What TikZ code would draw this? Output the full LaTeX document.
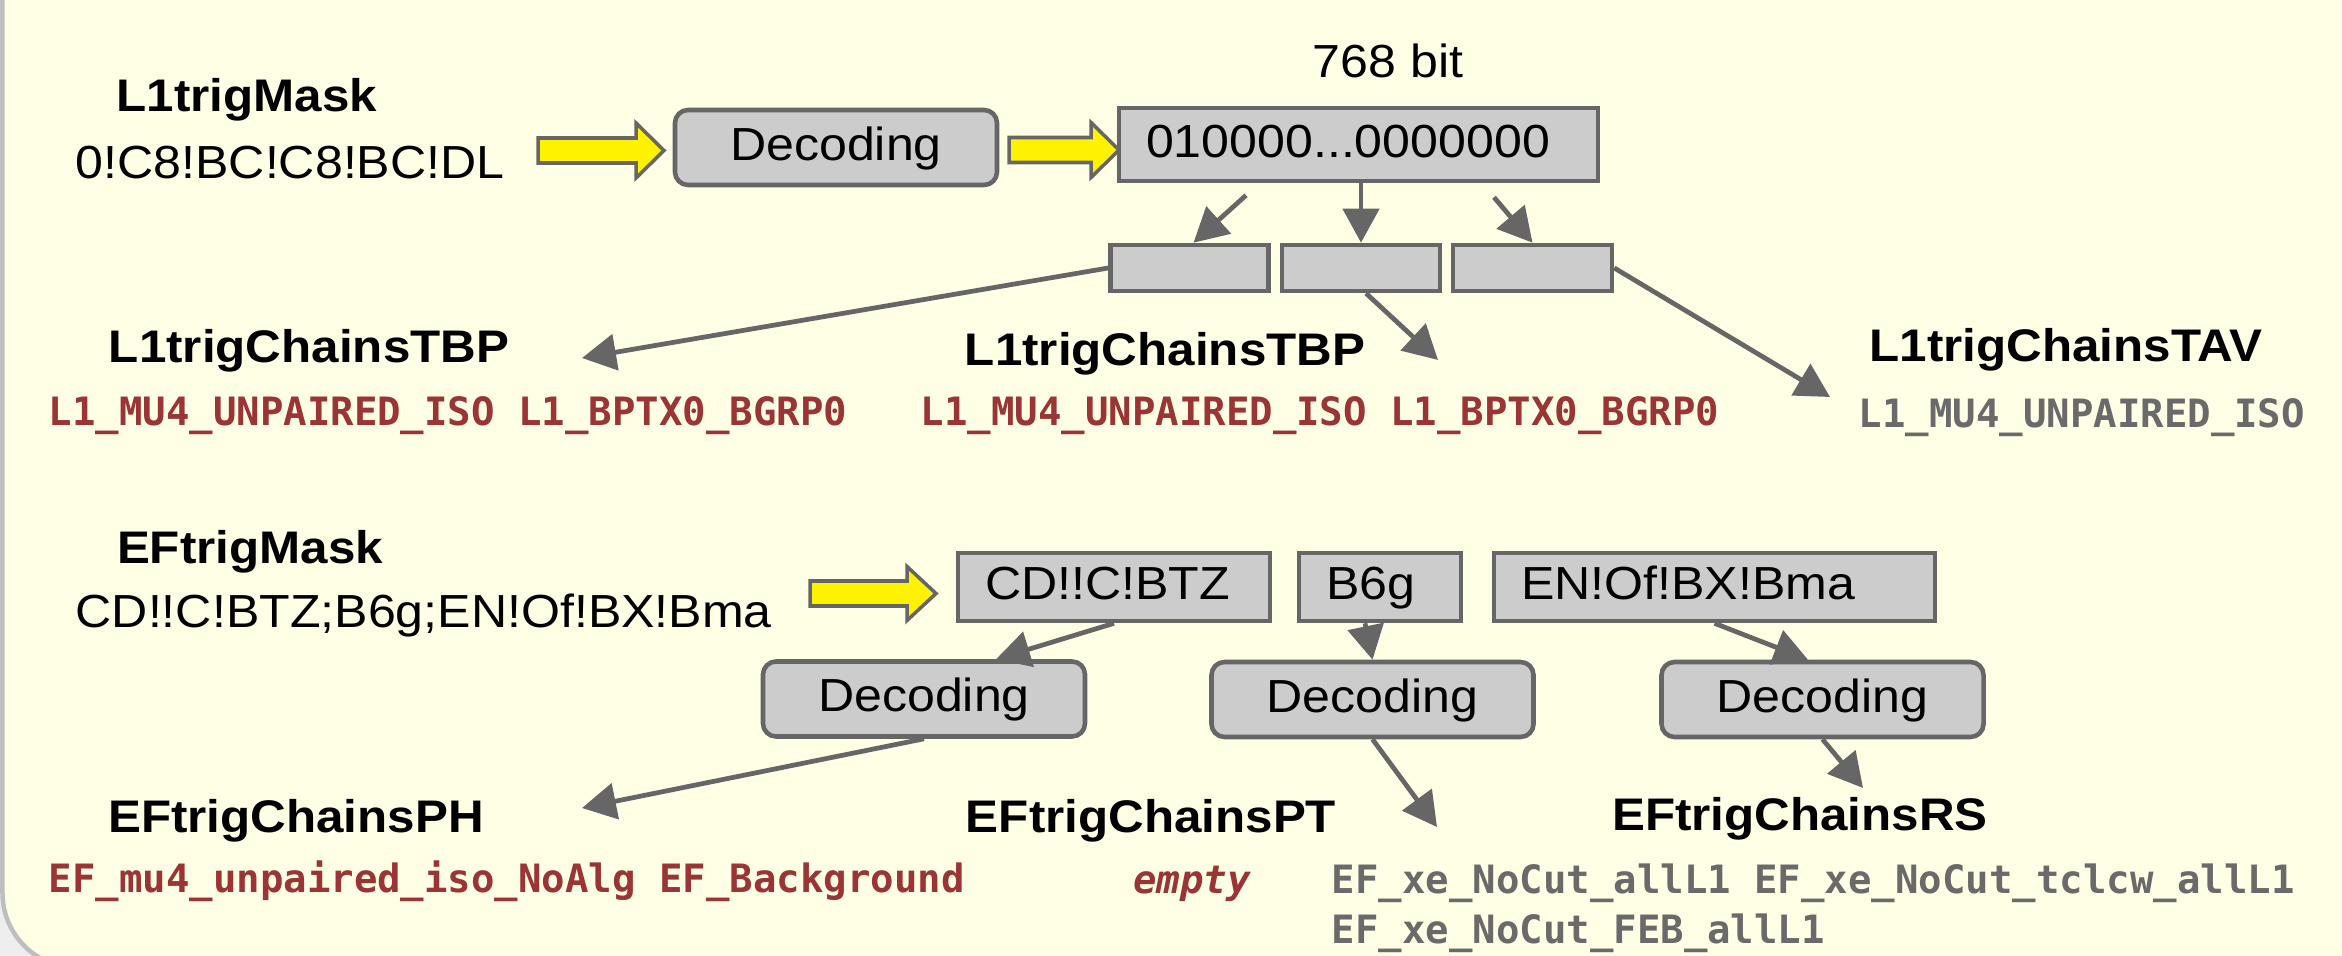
\documentclass[tikz,border=0pt]{standalone}
\usepackage{fontspec}
\setmainfont{Liberation Sans}[FakeStretch=1.08]
\newfontfamily\codefont{DejaVu Sans Mono}
\usetikzlibrary{arrows.meta}
\definecolor{panelbg}{RGB}{255,255,229}
\definecolor{outsidegray}{RGB}{238,238,238}
\definecolor{framegray}{RGB}{190,190,190}
\definecolor{boxgray}{RGB}{204,204,204}
\definecolor{linegray}{RGB}{102,102,102}
\definecolor{chainred}{RGB}{155,52,52}
\definecolor{chaingray}{RGB}{106,106,106}
\begin{document}
\begin{tikzpicture}[x=1cm,y=-1cm,>={Triangle[length=0.34cm,width=0.36cm]},
	title/.style={anchor=base,inner sep=0pt,font=\fontsize{13}{15}\selectfont\bfseries},
	mask/.style={anchor=base west,inner sep=0pt,font=\fontsize{13.2}{16}\selectfont},
	chain/.style={anchor=base west,inner sep=0pt,font=\fontsize{11.1}{14}\selectfont\codefont\bfseries},
	wordbox/.style={draw=linegray,fill=boxgray,line width=1.3pt,text height=0.72em,text depth=0pt,inner xsep=0.27cm,inner ysep=0pt,minimum height=0.68cm,align=left,font=\fontsize{13.2}{16}\selectfont},
	decobox/.style={draw=linegray,fill=boxgray,line width=1.3pt,rounded corners=0.13cm,text height=0.72em,text depth=0pt,minimum width=3.22cm,minimum height=0.75cm,font=\fontsize{13.2}{16}\selectfont},
	slot/.style={draw=linegray,fill=boxgray,line width=1.3pt,minimum width=1.58cm,minimum height=0.46cm,inner sep=0pt},
	conn/.style={->,draw=linegray,line width=1.35pt},
	yarrow/.style={draw=linegray,fill=yellow,line width=1pt}]
	%Khung nen
	\useasboundingbox (0,0) rectangle (23.42,9.56);
	\begin{scope}
	\clip (0,0) rectangle (23.42,9.56);
	\fill[outsidegray] (0,0) rectangle (23.42,9.56);
	\draw[framegray,line width=0.045cm,fill=panelbg,rounded corners=0.75cm] (0.025,-1) rectangle (25,9.68);
	\end{scope}
	%L1 mask
	\node[title] (l1mask) at (2.47,1.12) {L1trigMask};
	\node[mask] (l1val) at (0.75,1.79) {0!C8!BC!C8!BC!DL};
	%Mui ten vang 1,2
	\draw[yarrow] (5.38,1.38) -- (6.36,1.38) -- (6.36,1.23) -- (6.64,1.505) -- (6.36,1.78) -- (6.36,1.63) -- (5.38,1.63) -- cycle;
	\draw[yarrow] (10.09,1.375) -- (10.91,1.375) -- (10.91,1.225) -- (11.19,1.50) -- (10.91,1.775) -- (10.91,1.625) -- (10.09,1.625) -- cycle;
	%Khung decoding, bit
	\node[decobox] (dec1) at (8.36,1.475) {Decoding};
	\node[wordbox,text width=4.25cm,minimum height=0.73cm] (bits) at (13.585,1.445) {010000...0000000};
	\node[mask,anchor=base] (nbits) at (13.88,0.78) {768 bit};
	%Khung nho
	\node[slot] (sA) at (11.895,2.68) {};
	\node[slot] (sB) at (13.61,2.68) {};
	\node[slot,minimum width=1.59cm] (sC) at (13.61+1.715,2.68) {};
	%Ket qua L1
	\node[title] (tbpA) at (3.09,3.63) {L1trigChainsTBP};
	\node[chain,text=chainred] (tbpAlist) at (0.48,4.25) {L1\_MU4\_UNPAIRED\_ISO L1\_BPTX0\_BGRP0};
	\node[title] (tbpB) at (11.65,3.65) {L1trigChainsTBP};
	\node[chain,text=chainred] (tbpBlist) at (9.20,4.25) {L1\_MU4\_UNPAIRED\_ISO L1\_BPTX0\_BGRP0};
	\node[title] (tav) at (20.66,3.62) {L1trigChainsTAV};
	\node[chain,text=chaingray] (tavlist) at (18.58,4.27) {L1\_MU4\_UNPAIRED\_ISO};
	\coordinate (tbpAin) at (5.82,3.58);
	\coordinate (tbpBin) at (14.38,3.60);
	\coordinate (tavin) at (18.30,3.97);
	%Mui ten L1
	\draw[conn] ([shift={(-1.125,0.12)}]bits.south) -- ([xshift=0.04cm]sA.north);
	\draw[conn] (bits.south -| sB.north) -- (sB.north);
	\draw[conn] ([shift={(1.355,0.14)}]bits.south) -- (sC.north);
	\draw[conn] (sA.west) -- (tbpAin);
	\draw[conn] ([xshift=0.05cm]sB.south) -- (tbpBin);
	\draw[conn] (sC.east) -- (tavin);
	%EF mask
	\node[title] (efmask) at (2.50,5.63) {EFtrigMask};
	\node[mask] (efval) at (0.75,6.27) {CD!!C!BTZ;B6g;EN!Of!BX!Bma};
	\draw[yarrow] (8.10,5.81) -- (9.07,5.81) -- (9.07,5.665) -- (9.36,5.935) -- (9.07,6.205) -- (9.07,6.06) -- (8.10,6.06) -- cycle;
	%Khung EF
	\node[wordbox,text width=2.58cm] (cd) at (11.14,5.87) {CD!!C!BTZ};
	\node[wordbox,text width=1.08cm] (b6g) at (13.80,5.87) {B6g};
	\node[wordbox,text width=3.87cm] (en) at (17.145,5.87) {EN!Of!BX!Bma};
	\node[decobox] (decL) at (9.24,6.99) {Decoding};
	\node[decobox] (decM) at (13.725,6.995) {Decoding};
	\node[decobox] (decR) at (18.225,6.995) {Decoding};
	%Ket qua EF
	\node[title] (ph) at (2.96,8.32) {EFtrigChainsPH};
	\node[chain,text=chainred] (phlist) at (0.48,8.92) {EF\_mu4\_unpaired\_iso\_NoAlg EF\_Background};
	\node[title] (pt) at (11.51,8.32) {EFtrigChainsPT};
	\node[chain,text=chainred,anchor=base,font=\fontsize{11.1}{14}\selectfont\codefont\bfseries\itshape] (ptlist) at (11.92,8.93) {empty};
	\node[title] (rs) at (18.00,8.30) {EFtrigChainsRS};
	\node[chain,text=chaingray] (rslistA) at (13.31,8.93) {EF\_xe\_NoCut\_allL1 EF\_xe\_NoCut\_tclcw\_allL1};
	\node[chain,text=chaingray] (rslistB) at (13.31,9.43) {EF\_xe\_NoCut\_FEB\_allL1};
	\coordinate (phin) at (5.82,8.08);
	\coordinate (ptin) at (14.37,8.27);
	\coordinate (rsin) at (18.63,7.88);
	%Mui ten EF
	\draw[conn] (cd.south) -- ([xshift=0.72cm]decL.north);
	\draw[conn] ([xshift=-0.15cm]b6g.south) -- (decM.north);
	\draw[conn] (en.south) -- ([xshift=-0.145cm]decR.north);
	\draw[conn] (decL.south) -- (phin);
	\draw[conn] (decM.south) -- (ptin);
	\draw[conn] (decR.south) -- (rsin);
\end{tikzpicture}
\end{document}
